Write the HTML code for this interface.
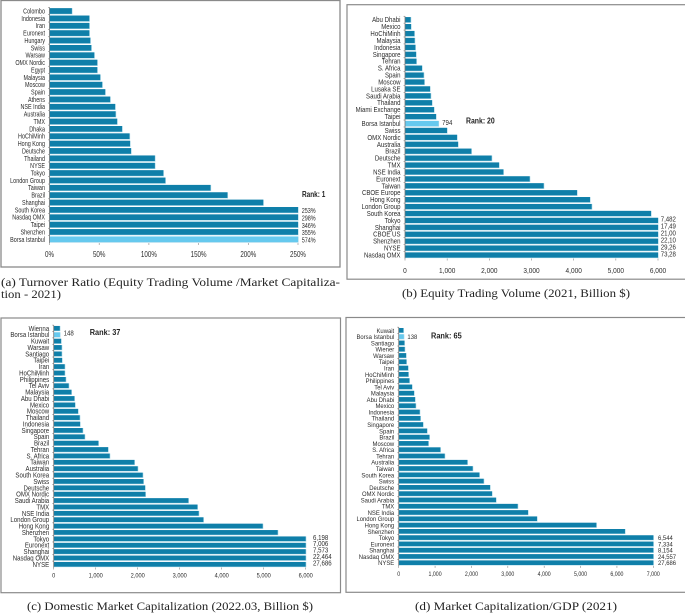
<!DOCTYPE html>
<html lang="en">
<head>
<meta charset="utf-8">
<title>Stock exchange rankings</title>
<style>
html,body{margin:0;padding:0;background:#fff;width:685px;height:614px;overflow:hidden}
svg{display:block;filter:blur(.3px)}
text{font-family:"Liberation Sans",sans-serif;fill:#2c2c2c}
.cap{font-family:"Liberation Serif",serif;font-size:11.6px;fill:#222}
.rank{font-weight:bold;font-size:8px;fill:#222}
</style>
</head>
<body>
<svg id="fig" width="685" height="614" viewBox="0 0 685 614" xmlns="http://www.w3.org/2000/svg">
<defs>
<clipPath id="clip-b"><rect x="347" y="5" width="329" height="274"/></clipPath>
</defs>
<rect x="1" y="0.5" width="339" height="266.5" fill="#fff" stroke="#8a8a8a" stroke-width="1.3"/>
<rect x="347" y="4.7" width="345" height="274.5" fill="#fff" stroke="#8a8a8a" stroke-width="1.2"/>
<rect x="1" y="318" width="339.5" height="274.7" fill="#fff" stroke="#8a8a8a" stroke-width="1.2"/>
<rect x="346" y="317.5" width="345" height="274.8" fill="#fff" stroke="#8a8a8a" stroke-width="1.2"/>
<text class="cap" x="1" y="286" textLength="339" lengthAdjust="spacingAndGlyphs">(a) Turnover Ratio (Equity Trading Volume /Market Capitaliza-</text>
<text class="cap" x="1" y="298" textLength="60" lengthAdjust="spacingAndGlyphs">tion - 2021)</text>
<text class="cap" x="402" y="297" textLength="228" lengthAdjust="spacingAndGlyphs">(b) Equity Trading Volume (2021, Billion $)</text>
<text class="cap" x="27" y="610" textLength="286" lengthAdjust="spacingAndGlyphs">(c) Domestic Market Capitalization (2022.03, Billion $)</text>
<text class="cap" x="415" y="610" textLength="202" lengthAdjust="spacingAndGlyphs">(d) Market Capitalization/GDP (2021)</text>
<text class="rank" x="302" y="197" textLength="23.3" lengthAdjust="spacingAndGlyphs">Rank: 1</text>
<text class="rank" x="466" y="123.5" textLength="28.7" lengthAdjust="spacingAndGlyphs">Rank: 20</text>
<text class="rank" x="89.7" y="335" textLength="30.7" lengthAdjust="spacingAndGlyphs">Rank: 37</text>
<text class="rank" x="431" y="338.5" textLength="30.7" lengthAdjust="spacingAndGlyphs">Rank: 65</text>
</svg>
<script>
var turnoverCategories = ["Colombo","Indonesia","Iran","Euronext","Hungary","Swiss","Warsaw","OMX Nordic","Egypt","Malaysia","Moscow","Spain","Athens","NSE India","Australia","TMX","Dhaka","HoChiMinh","Hong Kong","Deutsche","Thailand","NYSE","Tokyo","London Group","Taiwan","Brazil","Shanghai","South Korea","Nasdaq OMX","Taipei","Shenzhen","Borsa Istanbul"];
var turnoverValues = [22.5,40,40,40,41,42,45,48,48,51,53,56,61,66,66.5,68,73,80.5,81,82,106,106,114.5,116.5,162,179,215,253,298,346,355,574];
var turnoverTicks = [0,50,100,150,200,250];
var turnoverBreak = 250;

var volumeCategories = ["Abu Dhabi","Mexico","HoChiMinh","Malaysia","Indonesia","Singapore","Tehran","S. Africa","Spain","Moscow","Lusaka SE","Saudi Arabia","Thailand","Miami Exchange","Taipei","Borsa Istanbul","Swiss","OMX Nordic","Australia","Brazil","Deutsche","TMX","NSE India","Euronext","Taiwan","CBOE Europe","Hong Kong","London Group","South Korea","Tokyo","Shanghai","CBOE US","Shenzhen","NYSE","Nasdaq OMX"];
var volumeValues = [134,142,221,229,245,261,269,403,443,458,593,609,640,688,735,794,996,1233,1257,1573,2055,2229,2332,2957,3289,4079,4387,4427,5834,7482,17499,21009,22109,29266,73281];
var volumeTicks = [0,1000,2000,3000,4000,5000,6000];
var volumeBreak = 6000;

var domesticCategories = ["Wienna","Borsa Istanbul","Kuwait","Warsaw","Santiago","Taipei","Iran","HoChiMinh","Philippines","Tel Aviv","Malaysia","Abu Dhabi","Mexico","Moscow","Thailand","Indonesia","Singapore","Spain","Brazil","Tehran","S. Africa","Taiwan","Australia","South Korea","Swiss","Deutsche","OMX Nordic","Saudi Arabia","TMX","NSE India","London Group","Hong Kong","Shenzhen","Tokyo","Euronext","Shanghai","Nasdaq OMX","NYSE"];
var domesticValues = [145,148,175,190,190,198,262,262,286,357,421,492,508,579,619,627,690,738,1063,1294,1333,1921,2000,2119,2135,2175,2183,3206,3421,3452,3563,4976,5333,6198,7006,7573,22464,27686];
var domesticTicks = [0,1000,2000,3000,4000,5000,6000];
var domesticBreak = 6000;

var gdpCategories = ["Kuwait","Borsa Istanbul","Santiago","Wiener","Warsaw","Taipei","Iran","HoChiMinh","Philippines","Tel Aviv","Malaysia","Abu Dhabi","Mexico","Indonesia","Thailand","Singapore","Spain","Brazil","Moscow","S. Africa","Tehran","Australia","Taiwan","South Korea","Swiss","Deutsche","OMX Nordic","Saudi Arabia","TMX","NSE India","London Group","Hong Kong","Shenzhen","Tokyo","Euronext","Shanghai","Nasdaq OMX","NYSE"];
var gdpValues = [128,138,156,165,202,211,257,266,293,366,421,449,467,577,596,669,779,843,815,1145,1264,1887,2034,2217,2336,2511,2565,2675,3271,3555,3802,5433,6221,6544,7334,8154,24557,27686];
var gdpTicks = [0,1000,2000,3000,4000,5000,6000,7000];
var gdpBreak = 6500;

var HIGHLIGHT = "Borsa Istanbul";
var svg = document.getElementById("fig");
var NS = "http://www.w3.org/2000/svg";

function make(tag, props, parent) {
  var e = document.createElementNS(NS, tag);
  for (var k in props) e.setAttribute(k, props[k]);
  parent.appendChild(e);
  return e;
}
function label(parent, str, x, y, size, squeeze, anchor) {
  var t = make("text", {
    transform: "translate(" + x + "," + y + ") scale(" + squeeze + ",1)",
    "font-size": size,
    "text-anchor": anchor
  }, parent);
  t.textContent = str;
  return t;
}
function drawChart(c) {
  var g = make("g", {}, svg);
  
  
  if (c.clip) g.setAttribute("clip-path", c.clip);

  var xMax = c.ticks[c.ticks.length - 1];
  function xScale(v) {
    if (v > c.axisBreak) return c.x1;
    return c.x0 + v / xMax * (c.x1 - c.x0);
  }
  var step = (c.yLast - c.yFirst) / (c.categories.length - 1);
  function yScale(i) { return c.yFirst + i * step; }
  var barH = step - 1.7;
  var axisBottom = yScale(c.categories.length - 1) + step / 2;

  c.categories.forEach(function (cat, i) {
    var v = c.values[i], y = yScale(i), hi = cat === HIGHLIGHT;
    var w = xScale(v) - c.x0;
    var edge = make("rect", { x: c.x0, y: y - barH / 2, width: w + 0.6, height: barH + 0.5, fill: "#a9d8e8" }, g);
    
    
    var bar = make("rect", { x: c.x0, y: y - barH / 2, width: w, height: barH, fill: hi ? "#66c9ee" : "#0f7fa9" }, g);
    
    

    var tick = make("line", { x1: c.x0 - 1.5, x2: c.x0, y1: y - step / 2, y2: y - step / 2, stroke: "#888", "stroke-width": 0.6 }, g);
    
    

    var t = label(g, cat, c.x0 - 4.5, y + 2.5, c.fontSize, c.squeeze, "end");
    
    

    if (v > c.axisBreak || hi) {
      var vx = v > c.axisBreak ? c.x1 + c.clampGap : xScale(v) + 3.7;
      var vl = label(g, c.format(v), vx, y + 2.5 + c.valueShift, c.fontSize, c.squeeze, "start");
      
      
    }
  });

  var yAxis = make("line", { x1: c.x0, x2: c.x0, y1: yScale(0) - step / 2, y2: axisBottom, stroke: "#777", "stroke-width": 0.8 }, g);
  
  

  c.ticks.forEach(function (tv) {
    var x = c.x0 + tv / xMax * (c.x1 - c.x0);
    var tk = make("line", { x1: x, x2: x, y1: axisBottom, y2: axisBottom + 2, stroke: "#888", "stroke-width": 0.6 }, g);
    
    
    var tl = label(g, c.tickFormat(tv), x, c.tickY, c.tickSize, c.squeeze, "middle");
    
    
  });
}
function commas(v) { return v.toLocaleString("en-US"); }
function pct(v) { return v + "%"; }

drawChart({ name: "turnover-chart", categories: turnoverCategories, values: turnoverValues, ticks: turnoverTicks, axisBreak: turnoverBreak,
  x0: 49.5, x1: 298, yFirst: 11, yLast: 239.3, fontSize: 7, squeeze: 0.78, tickSize: 8, tickY: 257, clampGap: 3.7,
  valueShift: 0.8, format: pct, tickFormat: pct });
drawChart({ name: "volume-chart", categories: volumeCategories, values: volumeValues, ticks: volumeTicks, axisBreak: volumeBreak,
  x0: 405, x1: 658, yFirst: 19.7, yLast: 255, fontSize: 7, squeeze: 0.87, tickSize: 7.5, tickY: 273, clampGap: 2.7,
  valueShift: -1.2, format: commas, tickFormat: commas, clip: "url(#clip-b)" });
drawChart({ name: "domestic-cap-chart", categories: domesticCategories, values: domesticValues, ticks: domesticTicks, axisBreak: domesticBreak,
  x0: 53.7, x1: 305.7, yFirst: 328.3, yLast: 564.3, fontSize: 7, squeeze: 0.87, tickSize: 6.5, tickY: 577.5, clampGap: 7.3,
  valueShift: -1.5, format: commas, tickFormat: commas });
drawChart({ name: "gdp-cap-chart", categories: gdpCategories, values: gdpValues, ticks: gdpTicks, axisBreak: gdpBreak,
  x0: 398.7, x1: 653.3, yFirst: 330.3, yLast: 562.7, fontSize: 6.8, squeeze: 0.87, tickSize: 6, tickY: 576, clampGap: 4.7,
  valueShift: 0, format: commas, tickFormat: commas });
</script>
</body>
</html>
